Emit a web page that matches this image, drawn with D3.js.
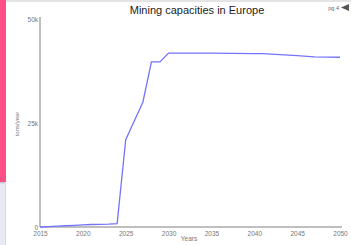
<!DOCTYPE html>
<html><head><meta charset="utf-8">
<script src="https://cdn.jsdelivr.net/npm/d3@7"></script>
<style>body{margin:0;background:#fff;overflow:hidden}svg{display:block;font-family:"Liberation Sans",Arial,sans-serif}</style>
</head><body>
<svg id="c" width="351" height="245"></svg>
<script>
const years = [2015,2016,2017,2018,2019,2020,2021,2022,2023,2024,2025,2026,2027,2028,2029,2030,2035,2040,2041,2045,2047,2050];
const capacity = [0,100,200,300,400,500,600,650,700,800,21000,25500,30000,39700,39700,41800,41800,41700,41700,41200,40900,40800];
const xTicks = [2015,2020,2025,2030,2035,2040,2045,2050];
const yTicks = [0,25000,50000];
const yTickLabels = ["0","25k","50k"];

const svg = d3.select("#c");
// page chrome
svg.append("rect").attr("x",0).attr("y",0).attr("width",351).attr("height",2).attr("fill","#e4e4e4");
svg.append("rect").attr("x",0).attr("y",0).attr("width",6).attr("height",182).attr("fill","#ff4f87");
svg.append("rect").attr("x",0).attr("y",182).attr("width",5).attr("height",63).attr("fill","#e8eaf3");
svg.append("rect").attr("x",0).attr("y",182).attr("width",6).attr("height",1.5).attr("fill","#c8cbe0");
svg.append("rect").attr("x",5).attr("y",182).attr("width",1).attr("height",63).attr("fill","#d6d8e4");

const x = d3.scaleLinear().domain([2015,2050]).range([40,340]);
const y = d3.scaleLinear().domain([0,50000]).range([227,19]);

svg.append("text").attr("x",197).attr("y",14).attr("text-anchor","middle")
  .attr("font-size",11).attr("fill","#222").text("Mining capacities in Europe");
svg.append("text").attr("x",339).attr("y",10).attr("text-anchor","end")
  .attr("font-size",5.5).attr("fill","#666").text("pg 4");
svg.append("path").attr("d","M341,7.5 L349,4 L349,11 Z").attr("fill","#555");

const xa = svg.append("g").attr("transform","translate(0,227)")
  .call(d3.axisBottom(x).tickValues(xTicks).tickFormat(d3.format("d")).tickSize(0).tickPadding(4));
xa.select(".domain").attr("stroke","#aaa").attr("stroke-width",1.5).attr("d","M40,0H342");
xa.selectAll("text").attr("font-size",6.5).attr("fill","#777").attr("font-family","Liberation Sans, Arial, sans-serif");

const ya = svg.append("g").attr("transform","translate(40,0)")
  .call(d3.axisLeft(y).tickValues(yTicks).tickFormat((d,i)=>yTickLabels[i]).tickSize(0).tickPadding(2));
ya.select(".domain").attr("stroke","#aaa").attr("stroke-width",1.5).attr("d","M0,17V227");
ya.selectAll("text").attr("font-size",6.5).attr("fill","#777").attr("font-family","Liberation Sans, Arial, sans-serif");

svg.append("text").attr("transform","translate(19,124) rotate(-90)").attr("text-anchor","middle")
  .attr("font-size",6).attr("fill","#777").text("tons/year");
svg.append("text").attr("x",189).attr("y",241).attr("text-anchor","middle")
  .attr("font-size",6.5).attr("fill","#777").text("Years");

const line = d3.line().x((d,i)=>x(years[i])).y(d=>y(d));
svg.append("path").datum(capacity).attr("d",line).attr("fill","none")
  .attr("stroke","#7373ff").attr("stroke-width",1.3);
</script>
</body></html>
